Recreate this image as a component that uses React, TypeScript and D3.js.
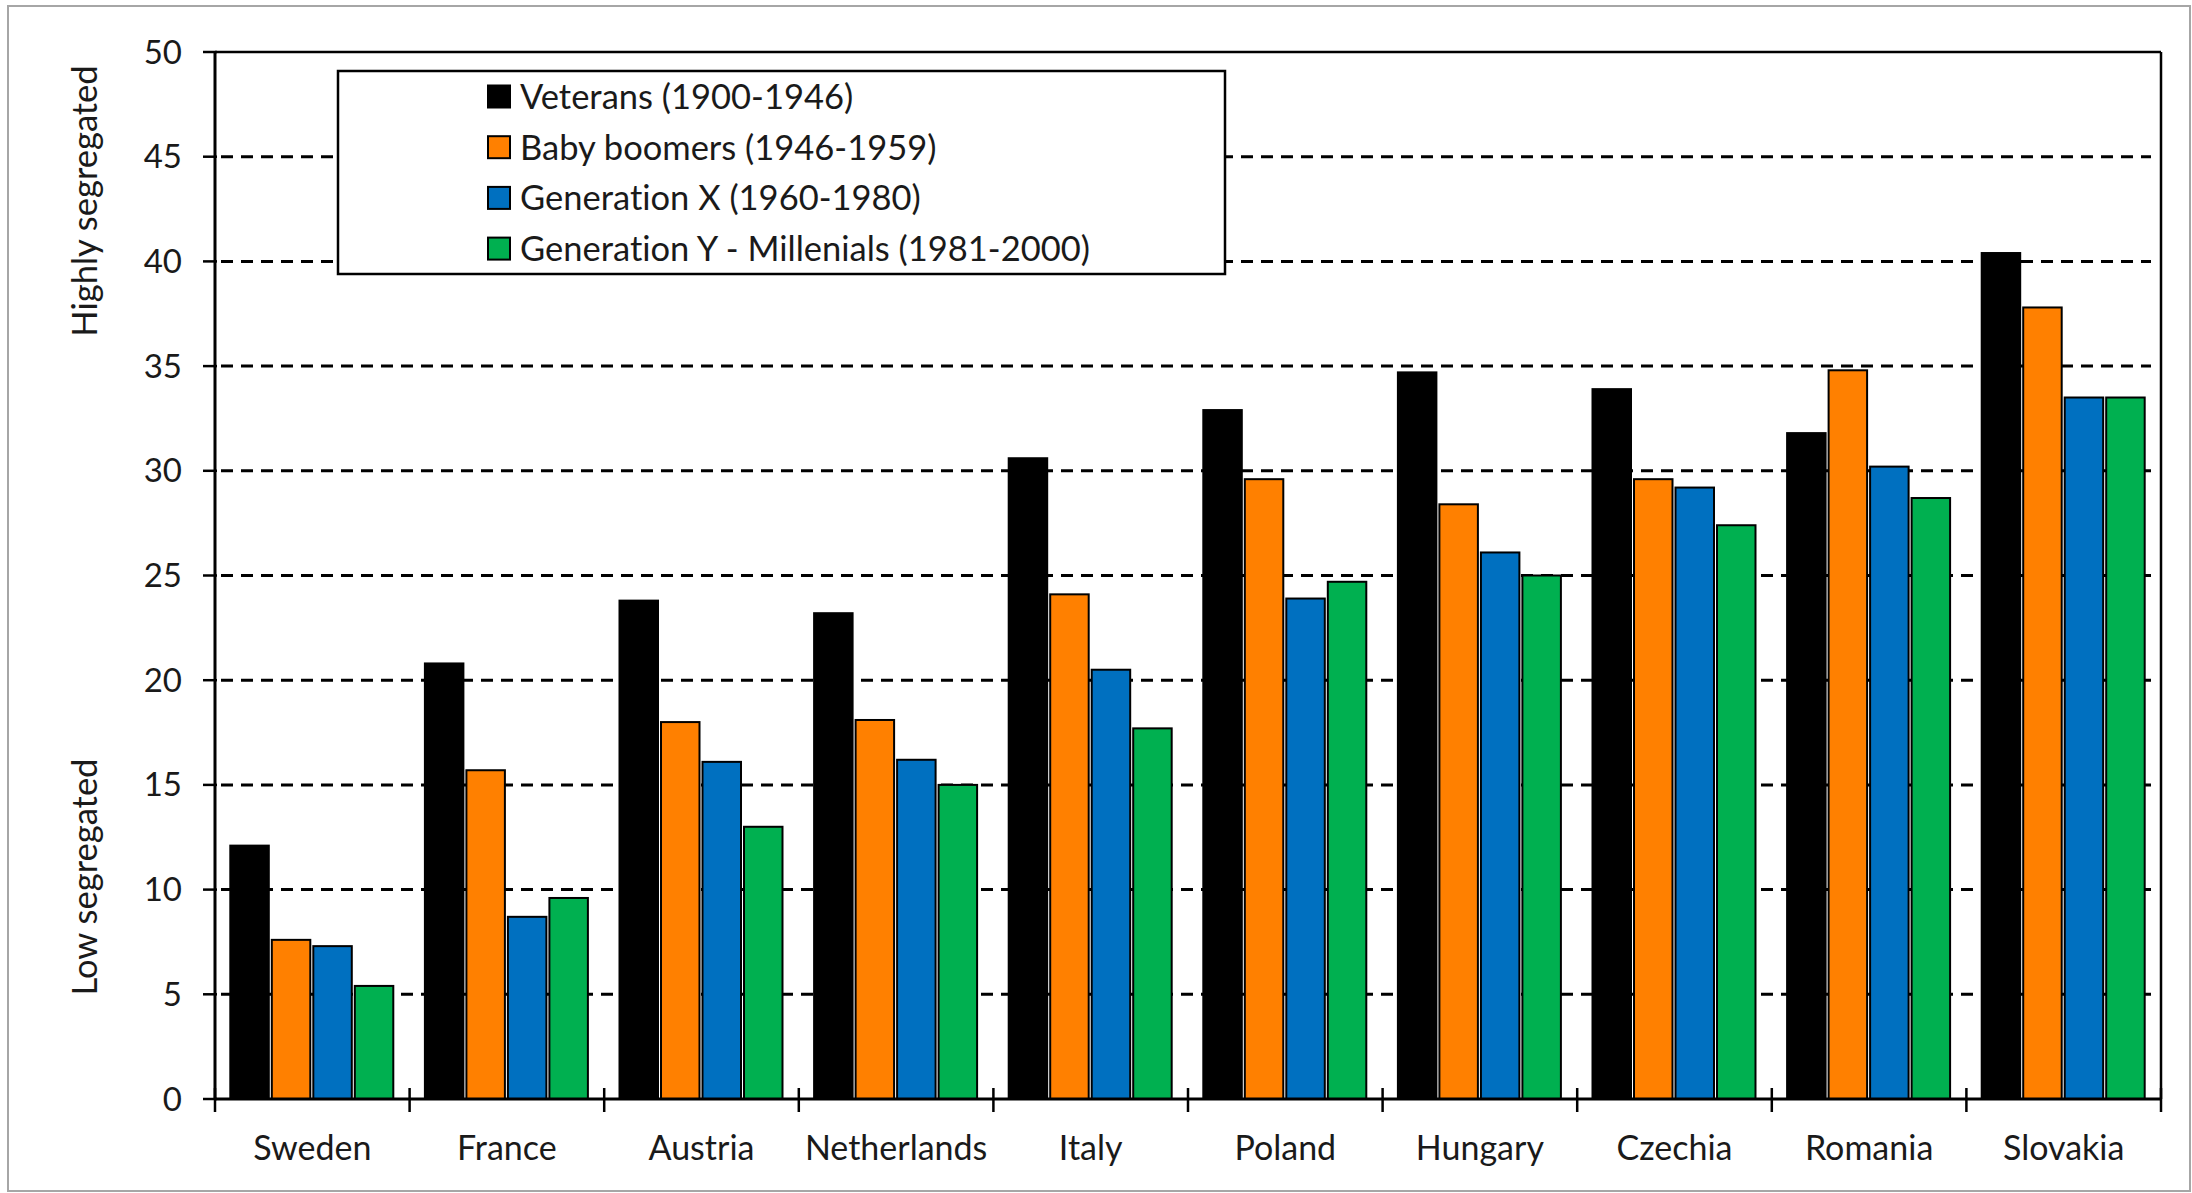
import React from "react";
import * as d3 from "d3";

// countries along the x axis
const countries = [
  "Sweden",
  "France",
  "Austria",
  "Netherlands",
  "Italy",
  "Poland",
  "Hungary",
  "Czechia",
  "Romania",
  "Slovakia",
];

const seriesNames = [
  "Veterans (1900-1946)",
  "Baby boomers (1946-1959)",
  "Generation X (1960-1980)",
  "Generation Y - Millenials (1981-2000)",
];
const seriesColors = ["#000000", "#FF8000", "#0070C0", "#00B050"];

// values per generation, in country order
const veterans = [12.1, 20.8, 23.8, 23.2, 30.6, 32.9, 34.7, 33.9, 31.8, 40.4];
const babyBoomers = [7.6, 15.7, 18.0, 18.1, 24.1, 29.6, 28.4, 29.6, 34.8, 37.8];
const generationX = [7.3, 8.7, 16.1, 16.2, 20.5, 23.9, 26.1, 29.2, 30.2, 33.5];
const generationY = [5.4, 9.6, 13.0, 15.0, 17.7, 24.7, 25.0, 27.4, 28.7, 33.5];

const yTicks = [0, 5, 10, 15, 20, 25, 30, 35, 40, 45, 50];

const W = 2192;
const H = 1193;
const FONT = "Lato, 'Open Sans', sans-serif";
const TEXT = "#1a1a1a";

export default function App() {
  const series = [veterans, babyBoomers, generationX, generationY];

  const left = 215;
  const right = 2161;
  const top = 52;
  const bottom = 1099;

  const x0 = d3.scaleBand<string>().domain(countries).range([left, right]).padding(0);
  const gap = x0.bandwidth() * 0.147;
  const x1 = d3
    .scaleBand<number>()
    .domain(d3.range(series.length))
    .range([gap / 2, x0.bandwidth() - gap / 2])
    .padding(0);
  const y = d3.scaleLinear().domain([0, 50]).range([bottom, top]);

  // category boundaries for the crossing tick marks
  const boundaries = countries.map((c) => x0(c) as number).concat([right]);

  return (
    <svg
      width={W}
      height={H}
      style={{ position: "absolute", left: 0, top: 0, background: "#fff", fontVariantLigatures: "none" }}
      fontFamily={FONT}
    >
      <rect x={8} y={6} width={2182} height={1185} fill="#fff" stroke="#a6a6a6" strokeWidth={2} />

      {/* dashed gridlines */}
      {yTicks
        .filter((t) => t > 0 && t < 50)
        .map((t) => (
          <line
            key={"g" + t}
            x1={left + 6}
            x2={right - 10}
            y1={y(t)}
            y2={y(t)}
            stroke="#000"
            strokeWidth={3}
            strokeDasharray="12 8"
          />
        ))}

      {/* bars */}
      {countries.map((c, ci) => (
        <g key={c} transform={`translate(${x0(c)},0)`}>
          {series.map((vals, si) => (
            <rect
              key={si}
              x={(x1(si) as number) + 1}
              y={y(vals[ci])}
              width={x1.bandwidth() - 3}
              height={y(0) - y(vals[ci])}
              fill={seriesColors[si]}
              stroke="#000"
              strokeWidth={2}
            />
          ))}
        </g>
      ))}

      {/* plot frame */}
      <line x1={left} x2={right} y1={top} y2={top} stroke="#000" strokeWidth={2.5} />
      <line x1={right} x2={right} y1={top} y2={bottom} stroke="#000" strokeWidth={2.5} />
      <line x1={left} x2={left} y1={top} y2={bottom + 1} stroke="#000" strokeWidth={3} />
      <line x1={left} x2={right} y1={bottom} y2={bottom} stroke="#000" strokeWidth={3} />

      {/* y ticks and labels */}
      {yTicks.map((t) => (
        <g key={"y" + t}>
          <line x1={203} x2={217} y1={y(t)} y2={y(t)} stroke="#000" strokeWidth={2.5} />
          <text
            x={182}
            y={y(t)}
            dy="0.35em"
            textAnchor="end"
            fontSize={33}
            fill={TEXT}
          >
            {t}
          </text>
        </g>
      ))}

      {/* x ticks */}
      {boundaries.map((bx, i) => (
        <line key={"xt" + i} x1={bx} x2={bx} y1={bottom - 11} y2={bottom + 13} stroke="#000" strokeWidth={2.5} />
      ))}

      {/* x labels */}
      {countries.map((c) => (
        <text
          key={"xl" + c}
          x={(x0(c) as number) + x0.bandwidth() / 2}
          y={1160}
          textAnchor="middle"
          fontSize={34}
          fill={TEXT}
        >
          {c}
        </text>
      ))}

      {/* axis side titles */}
      <text
        transform="translate(97,201) rotate(-90)"
        textAnchor="middle"
        fontSize={34.5}
        fill={TEXT}
      >
        Highly segregated
      </text>
      <text
        transform="translate(97,877) rotate(-90)"
        textAnchor="middle"
        fontSize={34.5}
        fill={TEXT}
      >
        Low segregated
      </text>

      {/* legend */}
      <rect x={338} y={71} width={887} height={203} fill="#fff" stroke="#000" strokeWidth={2.5} />
      {seriesNames.map((name, i) => {
        const cy = 96.5 + i * 50.7;
        return (
          <g key={name}>
            <rect x={488} y={cy - 11} width={22} height={22} fill={seriesColors[i]} stroke="#000" strokeWidth={2} />
            <text x={520} y={cy} dy="0.36em" fontSize={34.5} fill={TEXT}>
              {name}
            </text>
          </g>
        );
      })}
    </svg>
  );
}
